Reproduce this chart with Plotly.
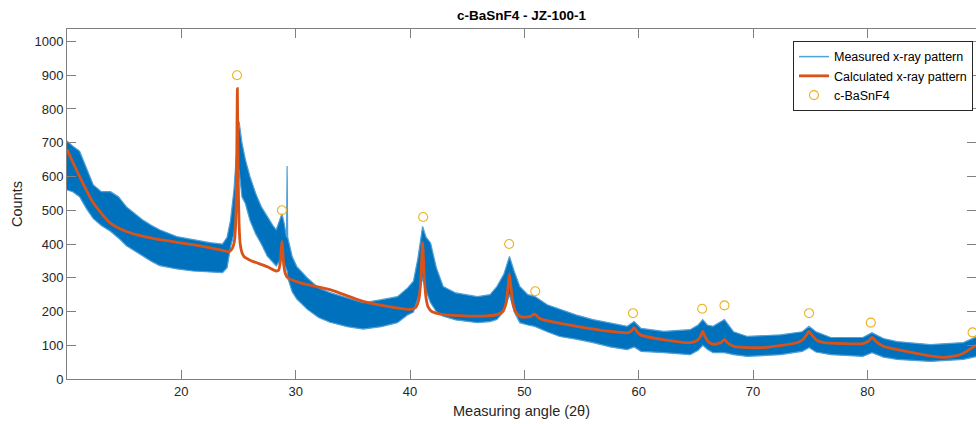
import plotly.graph_objects as go

# Measured pattern: noise band (angle, upper, lower)
meas_x = [10.0, 10.5, 11.1, 11.7, 12.3, 13.0, 13.8, 14.5, 15.2, 16.0, 16.6, 17.4, 18.1, 19.6,
          21.0, 22.5, 23.6, 24.0, 24.3, 24.6, 24.85, 25.05, 25.3, 25.6, 26.0, 26.5, 27.0, 27.5,
          28.0, 28.3, 28.6, 28.8, 29.0, 29.2, 29.25, 29.3, 29.7, 30.1, 31.0, 32.0, 33.0, 34.5,
          35.9, 37.5, 38.9, 39.8, 40.3, 40.7, 41.1, 41.4, 41.8, 42.3, 42.9, 44.0, 45.9, 47.0,
          47.6, 48.2, 48.7, 49.1, 49.6, 50.3, 50.9, 52.0, 53.1, 54.5, 56.0, 57.5, 59.0, 59.6,
          60.2, 62.2, 64.5, 65.2, 65.6, 66.0, 66.5, 67.5, 68.3, 69.5, 72.4, 74.3, 74.9, 75.5,
          76.8, 79.6, 80.4, 81.4, 82.6, 85.5, 88.4, 89.6]
meas_upper = [705, 690, 675, 625, 575, 555, 555, 540, 510, 488, 472, 455, 442, 422,
              413, 404, 400, 420, 470, 560, 680, 763, 700, 650, 600, 550, 510, 481,
              455, 442, 470, 490, 460, 420, 631, 420, 362, 333, 300, 270, 256, 240,
              226, 235, 244, 270, 290, 360, 452, 420, 403, 330, 274, 255, 244, 250,
              274, 310, 363, 320, 274, 250, 245, 220, 206, 190, 176, 165, 156, 170,
              150, 141, 146, 160, 176, 160, 156, 176, 140, 126, 131, 140, 156, 140,
              123, 123, 137, 120, 111, 102, 108, 126]
meas_lower = [560, 555, 540, 505, 475, 455, 438, 418, 395, 378, 365, 348, 336, 326,
              320, 318, 315, 330, 390, 430, 520, 620, 540, 520, 470, 430, 400, 365,
              345, 335, 350, 362, 340, 320, 320, 300, 258, 237, 207, 182, 168, 155,
              148, 155, 167, 190, 198, 240, 300, 260, 226, 200, 186, 175, 167, 170,
              176, 200, 250, 200, 167, 160, 156, 140, 126, 118, 108, 95, 87, 95,
              82, 78, 72, 85, 100, 88, 78, 78, 72, 67, 72, 82, 93, 80,
              72, 67, 78, 65, 58, 52, 58, 67]

# Calculated pattern
calc_x = [10.0, 11.1, 12.3, 13.8, 15.2, 16.6, 18.1, 21.0, 23.5, 24.2, 24.5, 24.65, 24.75, 24.83,
          24.9, 24.97, 25.05, 25.15, 25.3, 25.5, 26.0, 27.5, 28.3, 28.5, 28.65, 28.73, 28.8,
          28.87, 28.95, 29.1, 29.3, 30.4, 33.0, 35.9, 38.8, 40.0, 40.5, 40.8, 40.95, 41.1,
          41.25, 41.4, 41.6, 41.9, 42.9, 45.8, 47.6, 48.1, 48.4, 48.55, 48.7, 48.85, 49.0,
          49.3, 49.7, 50.5, 50.9, 51.3, 51.6, 54.6, 57.5, 59.0, 59.35, 59.6, 59.85, 60.2,
          62.1, 64.5, 65.1, 65.4, 65.6, 65.8, 66.1, 66.6, 67.2, 67.5, 67.8, 68.4, 70.9,
          73.9, 74.4, 74.7, 74.9, 75.2, 75.6, 76.2, 79.6, 80.1, 80.4, 80.8, 81.4, 84.0,
          86.6, 88.1, 89.6]
calc_y = [680, 600, 522, 462, 437, 423, 413, 398, 382, 377, 390, 410, 460, 600,
          860, 600, 460, 400, 375, 362, 352, 333, 320, 322, 345, 380, 408,
          380, 340, 312, 300, 285, 265, 230, 211, 206, 212, 240, 300, 405,
          300, 240, 212, 200, 191, 186, 191, 200, 225, 265, 312, 265, 225,
          196, 184, 185, 192, 180, 176, 156, 141, 137, 142, 152, 140, 130,
          117, 108, 114, 126, 141, 126, 110, 103, 108, 117, 106, 96, 93,
          108, 118, 132, 141, 128, 114, 108, 105, 112, 123, 110, 97, 78,
          64, 72, 102]

# Reference peak markers (c-BaSnF4)
peak_x = [24.87, 28.8, 41.15, 48.67, 50.95, 59.5, 65.55, 67.5, 74.9, 80.3, 89.2]
peak_y = [900, 500, 480, 400, 260, 195, 208, 218, 195, 167, 138]

BLUE = "#0072BD"
ORANGE = "#D95319"
YELLOW = "#EDB120"
FONT = "Liberation Sans, Arial, sans-serif"

fig = go.Figure()
fig.add_trace(go.Scatter(x=meas_x, y=meas_lower, mode="lines",
                         line=dict(color="#4f9fd8", width=1.2), showlegend=False,
                         hoverinfo="skip"))
fig.add_trace(go.Scatter(x=meas_x, y=meas_upper, mode="lines", fill="tonexty",
                         fillcolor=BLUE, line=dict(color="#4f9fd8", width=1.2),
                         showlegend=False, hoverinfo="skip"))
fig.add_trace(go.Scatter(x=[None], y=[None], mode="lines", name="Measured x-ray pattern",
                         line=dict(color="#4da3e0", width=1.5)))
fig.add_trace(go.Scatter(x=calc_x, y=calc_y, mode="lines", name="Calculated x-ray pattern",
                         line=dict(color=ORANGE, width=2.8, shape="spline", smoothing=0.6)))
fig.add_trace(go.Scatter(x=peak_x, y=peak_y, mode="markers", name="c-BaSnF4",
                         marker=dict(symbol="circle-open", size=9, color=YELLOW,
                                     line=dict(width=1.1, color=YELLOW))))

axis_common = dict(showline=True, linecolor="#808080", linewidth=1, mirror="ticks",
                   ticks="inside", ticklen=9, tickcolor="#808080", tickwidth=1,
                   showgrid=False, zeroline=False,
                   tickfont=dict(family=FONT, size=13, color="#262626"))

fig.update_layout(
    width=976, height=424,
    margin=dict(l=67, r=0, t=29, b=45),
    paper_bgcolor="white", plot_bgcolor="white",
    title=dict(text="<b>c-BaSnF4 - JZ-100-1</b>", xref="paper", x=0.5, xanchor="center",
               y=0.965, yanchor="middle", font=dict(family=FONT, size=13.5, color="#000")),
    xaxis=dict(range=[10, 89.5], tickvals=[20, 30, 40, 50, 60, 70, 80],
               title=dict(text="Measuring angle (2θ)", font=dict(family=FONT, size=14.5, color="#262626"),
                          standoff=8),
               **axis_common),
    yaxis=dict(range=[0, 1037], tickvals=list(range(0, 1001, 100)),
               title=dict(text="Counts", font=dict(family=FONT, size=14.5, color="#262626"),
                          standoff=8),
               **axis_common),
    legend=dict(x=0.9967, y=0.9658, xanchor="right", yanchor="top",
                bgcolor="white", bordercolor="#262626", borderwidth=1,
                font=dict(family=FONT, size=12.5, color="#000"),
                traceorder="normal", tracegroupgap=0, itemwidth=30),
    showlegend=True,
)

fig.write_html("out.html")
